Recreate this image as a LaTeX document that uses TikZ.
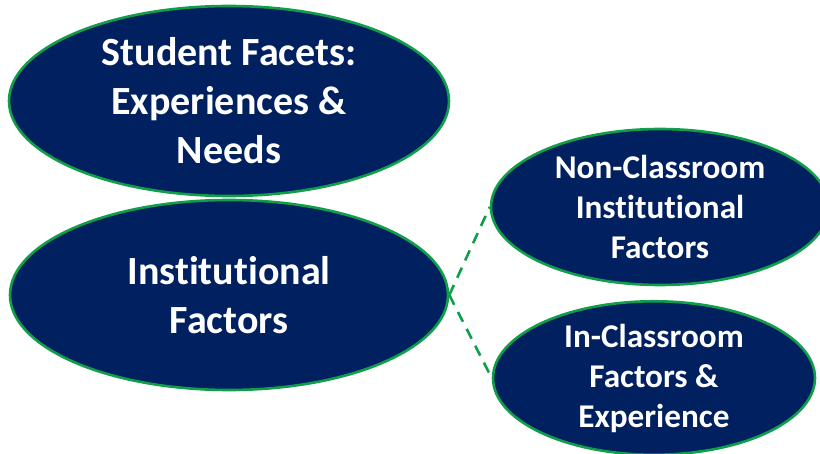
\documentclass[tikz,border=0pt]{standalone}
\usepackage{fontspec}
\setmainfont{Carlito}[Ligatures=NoCommon]
\usepackage{tikz}
\usetikzlibrary{shapes, positioning}
\definecolor{navy}{HTML}{002060}
\definecolor{leafgreen}{HTML}{119E4A}
\tikzset{
    bignode/.style = {draw=leafgreen, fill=navy, ellipse, line width=1.3pt, inner sep=0em, 
      node distance=0em, text=white, font=\fontsize{20pt}{24.5pt}\selectfont\bfseries},
    smallnode/.style = {bignode, font=\fontsize{16.6pt}{20pt}\selectfont\bfseries},
    dashlink/.style = {leafgreen, line width=1.3pt, dash pattern=on 5.5pt off 4pt},
    every text node part/.style={align=center}
}

\begin{document}
\begin{tikzpicture}[x=0.5pt, y=-0.5pt]
    \useasboundingbox (0,0) rectangle (820,454);

    \node [name=stud, bignode, minimum width=220pt, minimum height=95pt] at (229,101) 
        {Student Facets:\\ Experiences \&\\ Needs};
    \node [name=inst, bignode, minimum width=219pt, minimum height=95pt, 
        below of = stud, yshift=-97pt] {Institutional\\ Factors};

    \node [name=noncl, smallnode, minimum width=169pt, minimum height=78pt, 
        right of = inst, xshift=215.5pt, yshift=44pt] {Non-Classroom\\ Institutional\\ Factors};
    \node [name=incl, smallnode, minimum width=161pt, minimum height=76pt, 
        right of = inst, xshift=212.5pt, yshift=-41.5pt] {In-Classroom\\ Factors \&\\ Experience};

    \draw [dashlink] (inst.east) -- (noncl.west);
    \draw [dashlink] (inst.east) -- (incl.west);
\end{tikzpicture}
\end{document}
